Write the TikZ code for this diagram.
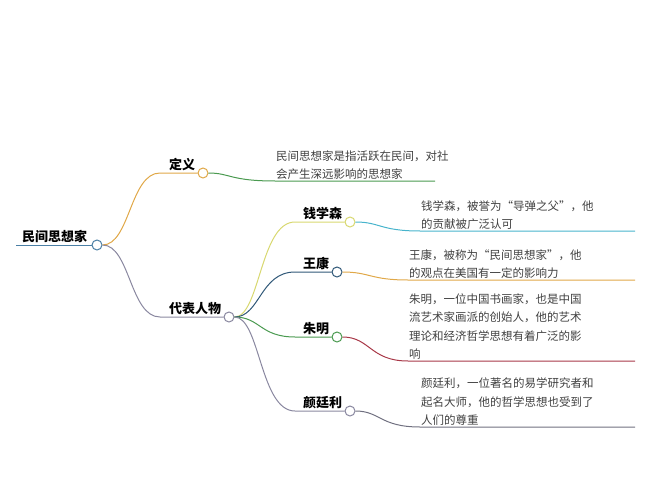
\documentclass[tikz,border=0pt]{standalone}
\usepackage{fontspec}
\setmainfont{Noto Sans CJK SC}
\begin{document}
\begin{tikzpicture}[x=1pt,y=-1pt,
  dot/.style={circle,draw=#1,fill=white,line width=1pt,minimum size=10pt,inner sep=0pt},
  br/.style={line width=1pt,draw=#1},
  lab/.style={font=\fontsize{13}{15}\selectfont\bfseries,anchor=south west,inner sep=1pt},
  leaf/.style={font=\fontsize{11.5}{18.5}\selectfont,color=black!75,anchor=south west,align=left,inner sep=1pt}]
\definecolor{cblue}{HTML}{4A7FA5}\definecolor{corange}{HTML}{E0A848}
\definecolor{cgreen}{HTML}{4A9A50}\definecolor{cgray}{HTML}{8A88A0}
\definecolor{cyel}{HTML}{D8D870}\definecolor{ccyan}{HTML}{48B4CC}
\definecolor{cdblue}{HTML}{305878}\definecolor{cred}{HTML}{A83848}
\definecolor{cdgray}{HTML}{707080}
\useasboundingbox (0,0) rectangle (650,500);
\coordinate (r0) at (16,245);
\node[dot=cblue] (r) at (97,245) {};
\node[lab] (rl) at (21,244) {民间思想家};
\draw[br=cblue] (r0) -- (r.west);
% definition
\node[dot=corange] (d) at (203,173) {};
\node[lab] (dl) at (168,172) {定义};
\draw[br=corange] (r.east) .. controls (130,245) and (130,173) .. (160,173) -- (d.west);
\coordinate (de) at (435,181);
\draw[br=cgreen] (d.east) .. controls (230,173) and (230,181) .. (275,181) -- (de);
\node[leaf] (dt) at (275,181) {民间思想家是指活跃在民间，对社\\会产生深远影响的思想家};
% rep
\node[dot=cgray] (p) at (229,317) {};
\node[lab] (pl) at (168,316) {代表人物};
\draw[br=cgray] (r.east) .. controls (130,245) and (130,317) .. (160,317) -- (p.west);
% 钱学森
\node[dot=cyel] (q) at (350,222) {};
\node[lab] (ql) at (302,221) {钱学森};
\draw[br=cyel] (p.east) .. controls (260,317) and (260,222) .. (295,222) -- (q.west);
\coordinate (qe) at (635,231);
\draw[br=ccyan] (q.east) .. controls (380,222) and (380,231) .. (420,231) -- (qe);
\node[leaf] (qt) at (420,231) {钱学森，被誉为“导弹之父”，他\\的贡献被广泛认可};
% 王康
\node[dot=cdblue] (w) at (337,272) {};
\node[lab] (wl) at (302,271) {王康};
\draw[br=cdblue] (p.east) .. controls (260,317) and (260,272) .. (295,272) -- (w.west);
\coordinate (we) at (635,280);
\draw[br=corange] (w.east) .. controls (370,272) and (370,280) .. (408,280) -- (we);
\node[leaf] (wt) at (408,280) {王康，被称为“民间思想家”，他\\的观点在美国有一定的影响力};
% 朱明
\node[dot=cgreen] (z) at (337,337) {};
\node[lab] (zl) at (302,336) {朱明};
\draw[br=cgreen] (p.east) .. controls (260,317) and (260,337) .. (295,337) -- (z.west);
\coordinate (ze) at (635,361);
\draw[br=cred] (z.east) .. controls (370,337) and (370,361) .. (408,361) -- (ze);
\node[leaf] (zt) at (408,361) {朱明，一位中国书画家，也是中国\\流艺术家画派的创始人，他的艺术\\理论和经济哲学思想有着广泛的影\\响};
% 颜廷利
\node[dot=cgray] (y) at (350,411) {};
\node[lab] (yl) at (302,410) {颜廷利};
\draw[br=cgray] (p.east) .. controls (260,317) and (260,411) .. (295,411) -- (y.west);
\coordinate (ye) at (635,427);
\draw[br=cdgray] (y.east) .. controls (380,411) and (380,427) .. (420,427) -- (ye);
\node[leaf] (yt) at (420,427) {颜廷利，一位著名的易学研究者和\\起名大师，他的哲学思想也受到了\\人们的尊重};
\end{tikzpicture}
\end{document}
